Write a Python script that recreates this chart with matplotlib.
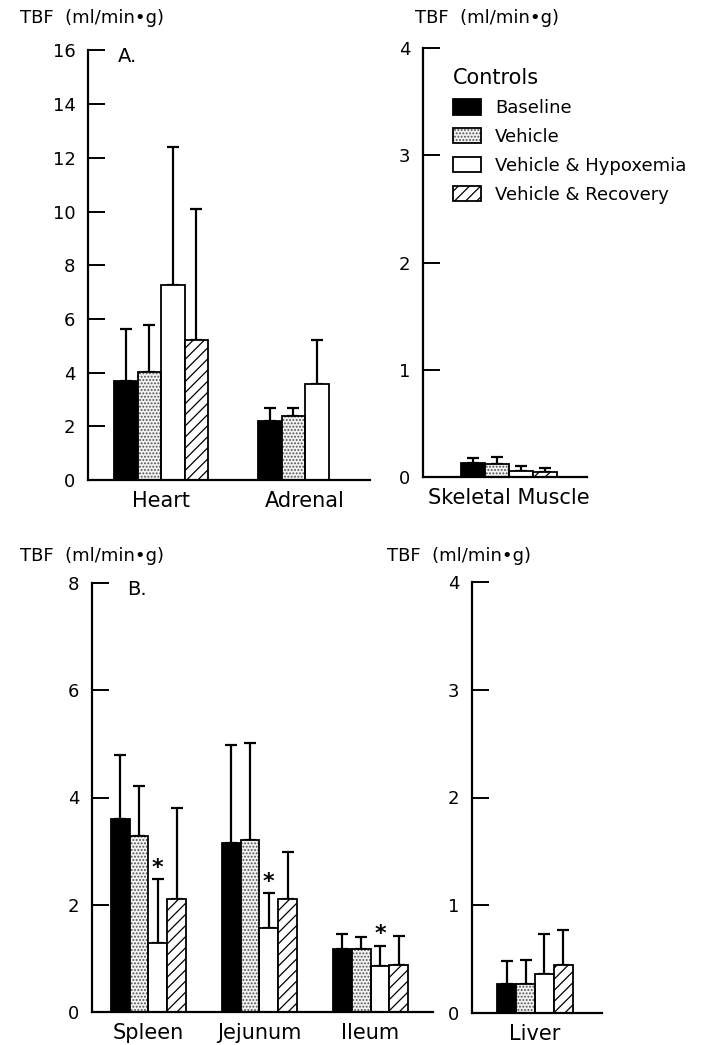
import numpy as np
import matplotlib
matplotlib.use("Agg")
import matplotlib.pyplot as plt
from matplotlib.patches import Patch
from matplotlib.legend_handler import HandlerTuple

plt.rcParams['font.family'] = ['DejaVu Sans']
plt.rcParams['hatch.linewidth'] = 0.9

# ---- data (means and upper error, ml/min.g) ----
series = ['Baseline', 'Vehicle', 'Vehicle & Hypoxemia', 'Vehicle & Recovery']

groups_a = ['Heart', 'Adrenal']
a_mean = [[3.69, 2.20], [4.01, 2.38], [7.27, 3.56], [5.22, np.nan]]
a_err = [[1.93, 0.47], [1.76, 0.29], [5.13, 1.67], [4.88, np.nan]]

groups_m = ['Skeletal Muscle']
m_mean = [[0.13], [0.12], [0.06], [0.05]]
m_err = [[0.05], [0.07], [0.04], [0.03]]

groups_b = ['Spleen', 'Jejunum', 'Ileum']
b_mean = [[3.60, 3.15, 1.18], [3.28, 3.20, 1.18], [1.29, 1.57, 0.86], [2.10, 2.10, 0.88]]
b_err = [[1.20, 1.83, 0.28], [0.93, 1.82, 0.22], [1.19, 0.64, 0.38], [1.70, 0.88, 0.54]]
b_star = [True, True, True]   # significant hypoxemia bar

groups_l = ['Liver']
l_mean = [[0.27], [0.27], [0.36], [0.45]]
l_err = [[0.21], [0.22], [0.37], [0.32]]

W, H = 704, 1045
fig = plt.figure(figsize=(W / 100, H / 100), dpi=100)

DOT_FACE, DOT_COL = '#f2f2f2', '#505050'


def px_axes(left, right, top, bottom):
    return fig.add_axes([left / W, 1 - bottom / H, (right - left) / W, (bottom - top) / H])


def draw_bars(ax, means, errs, gap):
    for k in range(4):
        x = np.arange(len(means[k])) * gap + (k - 1.5)
        m = np.array(means[k], dtype=float)
        e = np.array(errs[k], dtype=float)
        ok = ~np.isnan(m)
        x, m, e = x[ok], m[ok], e[ok]
        ax.errorbar(x, m, yerr=[np.zeros_like(e), e], fmt='none', ecolor='black',
                    elinewidth=1.6, capsize=4.5, capthick=1.6, zorder=1)
        if k == 0:
            ax.bar(x, m, width=1.0, color='black', edgecolor='black', linewidth=1.3, zorder=2)
        elif k == 1:
            ax.bar(x, m, width=1.0, color=DOT_FACE, edgecolor=DOT_COL, hatch='.....',
                   linewidth=0, zorder=2)
            ax.bar(x, m, width=1.0, fill=False, edgecolor='black', linewidth=1.3, zorder=3)
        elif k == 2:
            ax.bar(x, m, width=1.0, color='white', edgecolor='black', linewidth=1.3, zorder=2)
        else:
            ax.bar(x, m, width=1.0, color='white', edgecolor='black', hatch='///',
                   linewidth=1.3, zorder=2)


def style(ax, groups, gap, xlim, ylim, yticks):
    ax.set_xlim(*xlim)
    ax.set_ylim(*ylim)
    ax.set_yticks(yticks)
    ax.set_xticks(np.arange(len(groups)) * gap)
    ax.set_xticklabels(groups, fontsize=15)
    for s in ['top', 'right']:
        ax.spines[s].set_visible(False)
    for s in ['left', 'bottom']:
        ax.spines[s].set_linewidth(1.6)
    ax.tick_params(axis='y', direction='in', length=12, width=1.4, pad=9, labelsize=13)
    ax.tick_params(axis='x', length=0, pad=8)
    ax.patch.set_alpha(0)


# Panel A, left
ax1 = px_axes(88, 370, 50.5, 480)
draw_bars(ax1, a_mean, a_err, 6.13)
style(ax1, groups_a, 6.13, (-3.11, 8.89), (0, 16), np.arange(0, 17, 2))
ax1.text(0.105, 0.985, 'A.', transform=ax1.transAxes, fontsize=14, va='center')

# Panel A, right (skeletal muscle)
ax2 = px_axes(423, 587, 48, 477)
draw_bars(ax2, m_mean, m_err, 1)
style(ax2, groups_m, 1, (-3.58, 3.25), (0, 4), np.arange(0, 5, 1))

# legend
h_base = Patch(facecolor='black', edgecolor='black', linewidth=1.3)
h_veh = (Patch(facecolor=DOT_FACE, edgecolor=DOT_COL, hatch='.....', linewidth=0),
         Patch(fill=False, edgecolor='black', linewidth=1.3))
h_hyp = Patch(facecolor='white', edgecolor='black', linewidth=1.3)
h_rec = Patch(facecolor='white', edgecolor='black', hatch='///', linewidth=1.3)
leg = ax2.legend([h_base, h_veh, h_hyp, h_rec], series, title='Controls',
                 loc='upper left', bbox_to_anchor=(437 / W, 1 - 52 / H),
                 bbox_transform=fig.transFigure, frameon=False, fontsize=13,
                 title_fontsize=15, alignment='left', handlelength=1.55,
                 handleheight=0.95, labelspacing=0.6, handletextpad=0.75,
                 handler_map={tuple: HandlerTuple(ndivide=1, pad=0)})

# Panel B, left
ax3 = px_axes(92, 433, 583, 1012)
draw_bars(ax3, b_mean, b_err, 5.92)
style(ax3, groups_b, 5.92, (-3.01, 15.17), (0, 8), np.arange(0, 9, 2))
ax3.text(0.103, 0.985, 'B.', transform=ax3.transAxes, fontsize=14, va='center')
for i, s in enumerate(b_star):
    if s:
        top = b_mean[2][i] + b_err[2][i]
        ax3.annotate('*', (i * 5.92 + 0.5, top), xytext=(0, 1), textcoords='offset points',
                     ha='center', va='bottom', fontsize=16, fontweight='bold')

# Panel B, right (liver)
ax4 = px_axes(472, 602, 582, 1013)
draw_bars(ax4, l_mean, l_err, 1)
style(ax4, groups_l, 1, (-3.32, 3.53), (0, 4), np.arange(0, 5, 1))

# unit labels
ylab = 'TBF  (ml/min\u2022g)'
for (x, y) in [(20, 18), (415, 18), (20, 556), (387, 556)]:
    fig.text(x / W, 1 - y / H, ylab, fontsize=13, va='center', ha='left')

fig.savefig('out.png', dpi=100)
